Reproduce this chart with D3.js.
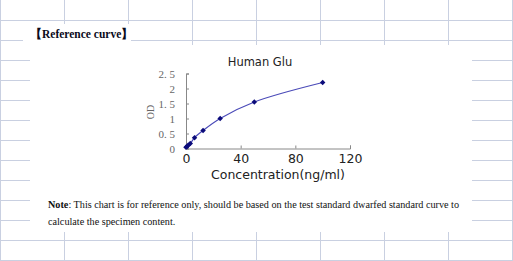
<!DOCTYPE html>
<html>
<head>
<meta charset="utf-8">
<script src="https://cdn.jsdelivr.net/npm/d3@7"></script>
<style>
  html,body{margin:0;padding:0;background:#fff;}
  svg{display:block;}
</style>
</head>
<body>
<svg id="chart" width="513" height="261"></svg>
<script>
/* data */
var conc=[0,0.78,1.56,3.125,6.25,12.5,25,50,100];
var od=[0.04,0.07,0.11,0.17,0.36,0.6,1.0,1.55,2.2];
var xTicks=[0,40,80,120];
var yTicks=[0,0.5,1,1.5,2,2.5];
var yTickLabels=['0','0. 5','1','1. 5','2','2. 5'];

var svg=d3.select('#chart');
var W=513,H=261;
var gridC='#c9d0e1';

/* spreadsheet grid behind everything */
var grid=svg.append('g');
d3.range(64,W,64).concat([512]).forEach(function(x){
  grid.append('line').attr('x1',x+0.5).attr('x2',x+0.5).attr('y1',0).attr('y2',H).attr('stroke',gridC);
});
grid.append('line').attr('x1',0.5).attr('x2',0.5).attr('y1',0).attr('y2',H).attr('stroke',gridC);
d3.range(20,H,20).forEach(function(y){
  grid.append('line').attr('x1',0).attr('x2',W).attr('y1',y+0.5).attr('y2',y+0.5).attr('stroke',gridC);
});

/* white panels */
svg.append('rect').attr('x',23).attr('y',24).attr('width',108).attr('height',21).attr('fill','#fff');
svg.append('rect').attr('x',30).attr('y',45).attr('width',442).attr('height',187).attr('fill','#fff');

svg.append('text').attr('x',30).attr('y',38)
  .attr('font-family','Liberation Serif,Times New Roman,serif').attr('font-weight','bold')
  .attr('font-size','11.5px').attr('fill','#0a0a1a')
  .text('【Reference curve】');

/* chart */
var x=d3.scaleLinear().domain([0,120]).range([186,350]);
var y=d3.scaleLinear().domain([0,2.5]).range([148.5,73.5]);

svg.append('text').attr('x',260).attr('y',66).attr('text-anchor','middle')
  .attr('font-family','DejaVu Sans,Verdana,sans-serif').attr('font-size','11.5px').attr('fill','#222')
  .text('Human Glu');

var yAxis=svg.append('g').attr('transform','translate('+x(0)+',0)')
  .call(d3.axisLeft(y).tickValues(yTicks).tickSize(-3).tickPadding(11)
    .tickFormat(function(d,i){return yTickLabels[i];}));
yAxis.select('.domain').attr('stroke','#888');
yAxis.selectAll('.tick line').attr('stroke','#888');
yAxis.selectAll('.tick text').attr('fill','#666').attr('font-size','11px')
  .attr('font-family','Liberation Serif,Times New Roman,serif');

var xAxis=svg.append('g').attr('transform','translate(0,'+y(0)+')')
  .call(d3.axisBottom(x).tickValues(xTicks).tickSize(-3).tickPadding(6));
xAxis.select('.domain').attr('stroke','#888');
xAxis.selectAll('.tick line').attr('stroke','#888');
xAxis.selectAll('.tick text').attr('fill','#222').attr('font-size','12.5px')
  .attr('font-family','DejaVu Sans,Verdana,sans-serif');

svg.append('text').attr('x',278).attr('y',179).attr('text-anchor','middle')
  .attr('font-family','DejaVu Sans,Verdana,sans-serif').attr('font-size','12.5px').attr('fill','#222')
  .text('Concentration(ng/ml)');

svg.append('text').attr('transform','translate(154,112) rotate(-90)').attr('text-anchor','middle')
  .attr('font-family','Liberation Serif,Times New Roman,serif').attr('font-size','10px').attr('fill','#666')
  .text('OD');

var pts=conc.map(function(c,i){return [c,od[i]];});
var line=d3.line().x(function(d){return x(d[0]);}).y(function(d){return y(d[1]);})
  .curve(d3.curveCatmullRom.alpha(0.5));
svg.append('path').attr('d',line(pts)).attr('fill','none').attr('stroke','#4a4ab8').attr('stroke-width',1.2);

// square turned 45deg reads like the Excel diamond marker
svg.selectAll('.pt').data(pts).enter().append('path').attr('class','pt')
  .attr('transform',function(d){return 'translate('+x(d[0])+','+y(d[1])+') rotate(45)';})
  .attr('d',d3.symbol().type(d3.symbolSquare).size(15))
  .attr('fill','#0b0b7a');

/* note */
var note=svg.append('text').attr('x',48).attr('y',208)
  .attr('font-family','Liberation Serif,Times New Roman,serif').attr('font-size','10.2px').attr('fill','#111');
note.append('tspan').attr('font-weight','bold').text('Note');
note.append('tspan').text(': This chart is for reference only, should be based on the test standard dwarfed standard curve to');
svg.append('text').attr('x',48).attr('y',225)
  .attr('font-family','Liberation Serif,Times New Roman,serif').attr('font-size','10.2px').attr('fill','#111')
  .text('calculate the specimen content.');
</script>
</body>
</html>
